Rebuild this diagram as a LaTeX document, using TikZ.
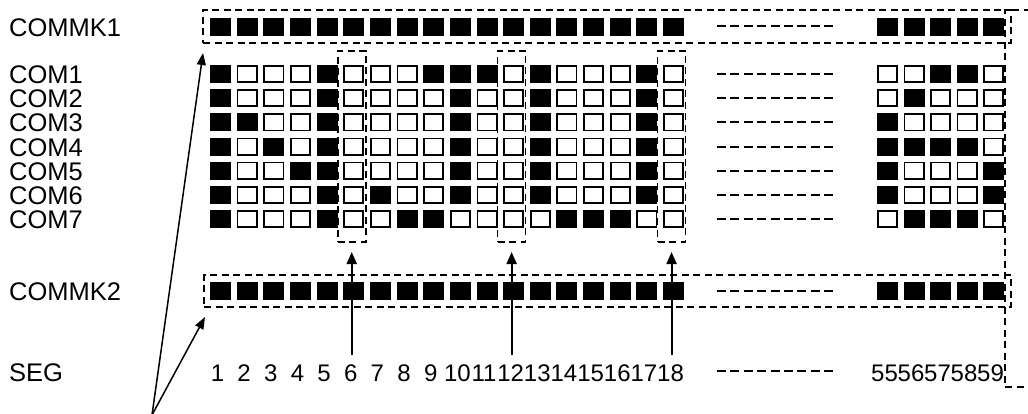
\documentclass[tikz,border=0pt]{standalone}
\usepackage{fontspec}
\setmainfont{Liberation Sans}
\usetikzlibrary{arrows.meta,calc}
\begin{document}
\begin{tikzpicture}[x=1pt,y=-1pt,
  cell0/.style={draw=black,line width=1.8pt,fill=white,minimum width=19.2pt,minimum height=16.2pt,inner sep=0pt,outer sep=0pt},
  cell1/.style={cell0,fill=black},
  lbl/.style={font=\fontsize{25.5}{30}\selectfont,anchor=base west,inner sep=0pt},
  num/.style={font=\fontsize{24}{28}\selectfont,anchor=base,inner sep=0pt},
  dbox/.style={draw=black,line width=1.5pt,dash pattern=on 7pt off 4.5pt,inner sep=0pt,outer sep=0pt},
  rowdash/.style={line width=2pt,dash pattern=on 9pt off 4.375pt},
  varr/.style={line width=2pt,-{Triangle[length=12pt,width=10pt]},shorten <=9pt,shorten >=10pt},
  larr/.style={line width=1.5pt,-{Triangle[length=12pt,width=9pt]}}]
\useasboundingbox[fill=white] (0,0) rectangle (1028,414);
% labels
\node[lbl] (lmk1) at (9,37) {COMMK1};
\node[lbl] (lmk2) at (9,300) {COMMK2};
\node[lbl] (lseg) at (9,381) {SEG};
% COMMK rows
\foreach \c in {1,...,18} {
  \node[cell1] (ka-\c) at ({220.5+(\c-1)*26.65},27) {};
  \node[cell1] (kb-\c) at ({220.5+(\c-1)*26.65},291) {};
}
\foreach \k in {55,...,59} {
  \node[cell1] (ka-\k) at ({887.5+(\k-55)*26.5},27) {};
  \node[cell1] (kb-\k) at ({887.5+(\k-55)*26.5},291) {};
}
\draw[rowdash] (717,26) -- (833,26);
\draw[rowdash] (717,291) -- (833,291);
\draw[rowdash] (717,371) -- (833,371);
% COM rows
\foreach \r/\pat/\patr in {
 1/{1,0,0,0,1,0,0,0,1,1,1,0,1,0,0,0,1,0}/{0,0,1,1,0},
 2/{1,0,0,0,1,0,0,0,0,1,0,0,1,0,0,0,1,0}/{0,1,0,0,0},
 3/{1,1,0,0,1,0,0,0,0,1,0,0,1,0,0,0,1,0}/{1,0,0,0,0},
 4/{1,0,1,0,1,0,0,0,0,1,0,0,1,0,0,0,1,0}/{1,1,1,1,0},
 5/{1,0,0,1,1,0,0,0,0,1,0,0,1,0,0,0,1,0}/{1,0,0,0,1},
 6/{1,0,0,0,1,0,1,0,0,1,0,0,1,0,0,0,1,0}/{1,0,0,0,1},
 7/{1,0,0,0,1,0,0,1,1,0,0,0,0,1,1,1,0,0}/{0,1,1,1,0}}
{
  \pgfmathsetmacro\yy{74+(\r-1)*24.17}
  \node[lbl] (com\r) at (9,\yy+9.5) {COM\r};
  \foreach \v [count=\c] in \pat {\node[cell\v] (c\r-\c) at ({220.5+(\c-1)*26.65},\yy) {};}
  \foreach \v [count=\k from 55] in \patr {\node[cell\v] (c\r-\k) at ({887.5+(\k-55)*26.5},\yy) {};}
  \draw[rowdash] (717,\yy) -- (833,\yy);
}
% dashed boxes
\node[dbox,minimum width=808pt,minimum height=33pt] (mk1) at (607,26.5) {};
\node[dbox,minimum width=807pt,minimum height=32pt] (mk2) at (607.5,291) {};
\node[dbox,minimum width=60pt,minimum height=377pt,anchor=north west] (segbox) at (1005,10) {};
\foreach \c in {6,12,18} {
  \node[dbox,minimum width=28pt,minimum height=191pt] (b\c) at ({218.5+(\c-1)*26.65},146.5) {};
}
% SEG numbers
\foreach \c in {1,...,18} {\node[num] (n\c) at ({217.5+(\c-1)*26.65},381) {\c};}
\foreach \k in {55,...,59} {\node[num] (n\k) at ({884.5+(\k-55)*26.5},381) {\k};}
% arrows
\foreach \c in {6,12,18} {\draw[varr] (b\c.south |- n\c.north) -- (b\c.south);}
\coordinate (src) at (152,415);
\draw[larr] (src) -- ($(mk1.south west)+(0,10)$);
\draw[larr] (src) -- ($(mk2.south west)+(1,10)$);
\end{tikzpicture}
\end{document}
